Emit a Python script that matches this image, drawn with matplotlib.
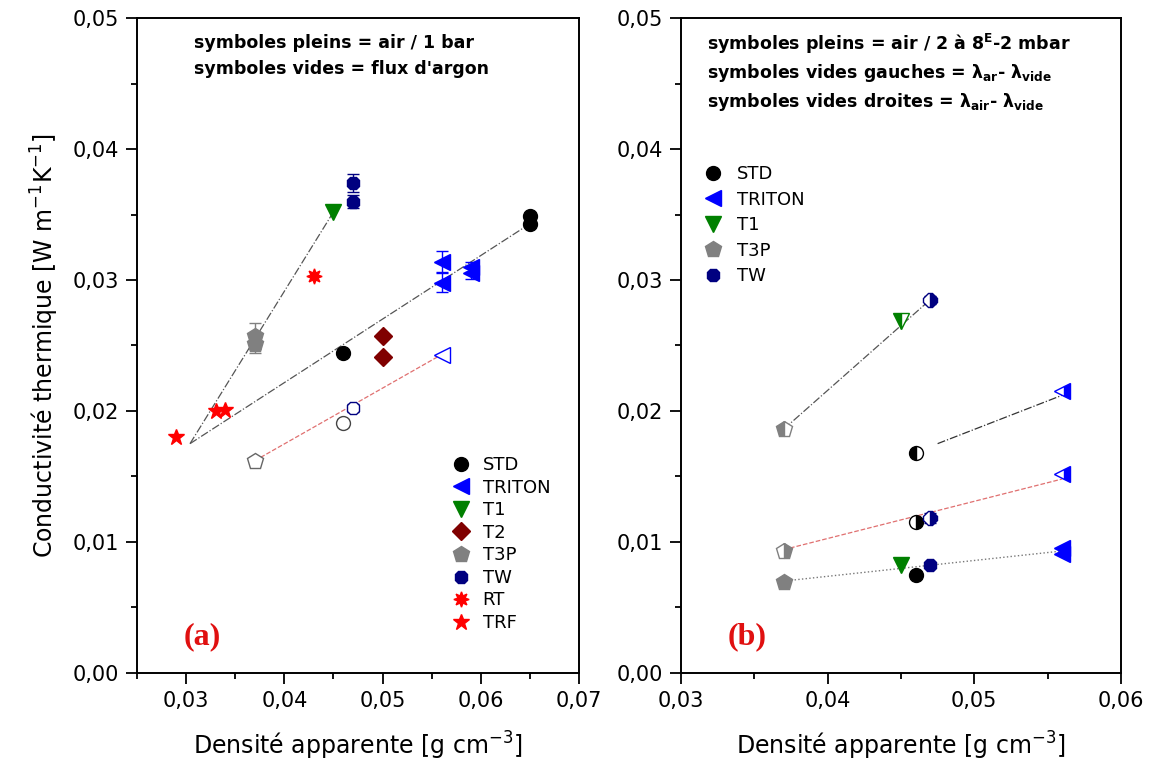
import matplotlib
matplotlib.use("Agg")
import matplotlib.pyplot as plt
from matplotlib.ticker import MultipleLocator, FuncFormatter

# ---- panel (a) data : air / 1 bar (filled) and argon flow (open) ----
std_x = [0.046, 0.065, 0.065]
std_y = [0.0244, 0.0349, 0.0343]
triton_x = [0.056, 0.056, 0.059, 0.059]
triton_y = [0.0314, 0.0298, 0.0310, 0.0305]
triton_err = [0.0008, 0.0007, 0.0004, 0.0004]
t1_x = [0.045]
t1_y = [0.0352]
t2_x = [0.050, 0.050]
t2_y = [0.0257, 0.0241]
t3p_x = [0.037, 0.037]
t3p_y = [0.0257, 0.0251]
t3p_err = [0.0010, 0.0007]
tw_x = [0.047, 0.047]
tw_y = [0.0374, 0.0360]
tw_err = [0.0007, 0.0005]
rt_x = [0.043]
rt_y = [0.0303]
trf_x = [0.029, 0.033, 0.034]
trf_y = [0.0180, 0.0200, 0.0201]

# open symbols (argon)
std_ar_x = [0.046]
std_ar_y = [0.0191]
std_ar_err = [0.0003]
triton_ar_x = [0.056]
triton_ar_y = [0.0243]
t3p_ar_x = [0.037]
t3p_ar_y = [0.0162]
t3p_ar_err = [0.0003]
tw_ar_x = [0.047]
tw_ar_y = [0.0202]
tw_ar_err = [0.0003]

# guide lines of panel (a)
fit1_x = [0.0304, 0.045]
fit1_y = [0.0175, 0.0352]
fit2_x = [0.0304, 0.065]
fit2_y = [0.0175, 0.0343]
fit3_x = [0.037, 0.056]
fit3_y = [0.0162, 0.0243]

# ---- panel (b) data : vacuum ----
b_std_x = [0.046]
b_std_y = [0.0075]
b_triton_x = [0.056, 0.056]
b_triton_y = [0.0095, 0.0091]
b_t1_x = [0.045]
b_t1_y = [0.0082]
b_t3p_x = [0.037]
b_t3p_y = [0.0069]
b_tw_x = [0.047]
b_tw_y = [0.0082]

# half filled: lambda_ar - lambda_vide
b_t3p_g_x = [0.037]
b_t3p_g_y = [0.0186]
b_t1_g_x = [0.045]
b_t1_g_y = [0.0269]
b_tw_g_x = [0.047]
b_tw_g_y = [0.0285]
b_std_g_x = [0.046]
b_std_g_y = [0.0168]
b_triton_g_x = [0.056]
b_triton_g_y = [0.0215]

# half filled: lambda_air - lambda_vide
b_t3p_d_x = [0.037]
b_t3p_d_y = [0.0093]
b_std_d_x = [0.046]
b_std_d_y = [0.0115]
b_tw_d_x = [0.047]
b_tw_d_y = [0.0118]
b_triton_d_x = [0.056]
b_triton_d_y = [0.0152]

b_fit1_x = [0.037, 0.047]
b_fit1_y = [0.0186, 0.0285]
b_fit2_x = [0.0475, 0.056]
b_fit2_y = [0.0175, 0.0212]
b_fit3_x = [0.037, 0.056]
b_fit3_y = [0.0094, 0.0148]
b_fit4_x = [0.037, 0.056]
b_fit4_y = [0.0070, 0.0093]

BLACK = "black"
BLUE = "#0000ff"
GREEN = "#008000"
DARKRED = "#800000"
GRAY = "#808080"
NAVY = "#000080"
RED = "#ff0000"


def comma(v, pos):
    return f"{v:.2f}".replace(".", ",")


def style_axes(ax, xmin, xmax):
    ax.set_xlim(xmin, xmax)
    ax.set_ylim(0, 0.05)
    ax.xaxis.set_major_locator(MultipleLocator(0.01))
    ax.xaxis.set_minor_locator(MultipleLocator(0.005))
    ax.yaxis.set_major_locator(MultipleLocator(0.01))
    ax.yaxis.set_minor_locator(MultipleLocator(0.005))
    ax.xaxis.set_major_formatter(FuncFormatter(comma))
    ax.yaxis.set_major_formatter(FuncFormatter(comma))
    ax.tick_params(which="major", direction="out", length=8, width=1.3,
                   labelsize=15, pad=5)
    ax.tick_params(which="minor", direction="out", length=4, width=1.3)
    ax.tick_params(top=False, right=False, which="both")
    for s in ax.spines.values():
        s.set_linewidth(1.4)
    ax.set_xlabel("Densité apparente [g cm$^{-3}$]", fontsize=17, labelpad=14)


def bars(ax, x, y, err, c):
    ax.errorbar(x, y, yerr=err, fmt="none", ecolor=c, capsize=4,
                elinewidth=1, capthick=1)


def half(ax, x, y, m, c, side, ms=10):
    ax.plot(x, y, m, color=c, mfc=c, mec=c, mfcalt="white",
            fillstyle=side, ms=ms)


fig = plt.figure(figsize=(11.53, 7.74), dpi=100)
ax1 = fig.add_axes([0.1188, 0.1309, 0.3834, 0.8455])
ax2 = fig.add_axes([0.5906, 0.1309, 0.3816, 0.8455])

# ---------- panel (a) ----------
ax1.plot(fit1_x, fit1_y, ls="-.", color="#555555", lw=0.9)
ax1.plot(fit2_x, fit2_y, ls="-.", color="#555555", lw=0.9)
ax1.plot(fit3_x, fit3_y, ls="--", color="#e07070", lw=0.9)

bars(ax1, triton_x, triton_y, triton_err, BLUE)
bars(ax1, t3p_x, t3p_y, t3p_err, GRAY)
bars(ax1, tw_x, tw_y, tw_err, NAVY)
bars(ax1, std_ar_x, std_ar_y, std_ar_err, "#444444")
bars(ax1, t3p_ar_x, t3p_ar_y, t3p_ar_err, "#666666")
bars(ax1, tw_ar_x, tw_ar_y, tw_ar_err, NAVY)

ax1.plot(std_x, std_y, "o", color=BLACK, ms=10, label="STD")
ax1.plot(triton_x, triton_y, "<", color=BLUE, ms=12, label="TRITON")
ax1.plot(t1_x, t1_y, "v", color=GREEN, ms=11, label="T1")
ax1.plot(t2_x, t2_y, "D", color=DARKRED, ms=9, label="T2")
ax1.plot(t3p_x, t3p_y, "p", color=GRAY, ms=12, label="T3P")
ax1.plot(tw_x, tw_y, "8", color=NAVY, ms=10, label="TW")
ax1.plot(rt_x, rt_y, marker=(8, 1, 0), ls="none", color=RED, ms=11, label="RT")
ax1.plot(trf_x, trf_y, "*", color=RED, ms=12, label="TRF")

ax1.plot(std_ar_x, std_ar_y, "o", mfc="white", mec="#444444", ms=10)
ax1.plot(triton_ar_x, triton_ar_y, "<", mfc="white", mec=BLUE, ms=12)
ax1.plot(t3p_ar_x, t3p_ar_y, "p", mfc="white", mec="#666666", ms=12)
ax1.plot(tw_ar_x, tw_ar_y, "8", mfc="white", mec=NAVY, ms=10)

style_axes(ax1, 0.025, 0.07)
ax1.set_ylabel("Conductivité thermique [W m$^{-1}$K$^{-1}$]", fontsize=17,
               labelpad=8)
ax1.legend(loc="upper left", bbox_to_anchor=(0.68, 0.35), frameon=False,
           fontsize=13, labelspacing=0.25, handletextpad=0.6,
           handlelength=1.2, borderpad=0.2)
ax1.text(0.13, 0.962, "symboles pleins = air / 1 bar", transform=ax1.transAxes,
         fontsize=12.5, fontweight="bold", va="center")
ax1.text(0.13, 0.922, "symboles vides = flux d'argon", transform=ax1.transAxes,
         fontsize=12.5, fontweight="bold", va="center")
ax1.text(0.105, 0.055, "(a)", transform=ax1.transAxes, color="#e01010",
         fontsize=23, fontweight="bold", family="Liberation Serif",
         va="center")

# ---------- panel (b) ----------
ax2.plot(b_fit1_x, b_fit1_y, ls="-.", color="#555555", lw=0.9)
ax2.plot(b_fit2_x, b_fit2_y, ls="-.", color="#333333", lw=0.9)
ax2.plot(b_fit3_x, b_fit3_y, ls="--", color="#e07070", lw=0.9)
ax2.plot(b_fit4_x, b_fit4_y, ls=":", color="#777777", lw=1.0)

bars(ax2, b_tw_g_x, b_tw_g_y, [0.0003], NAVY)
bars(ax2, b_tw_d_x, b_tw_d_y, [0.0004], NAVY)

ax2.plot(b_std_x, b_std_y, "o", color=BLACK, ms=10, label="STD")
ax2.plot(b_triton_x, b_triton_y, "<", color=BLUE, ms=12, label="TRITON")
ax2.plot(b_t1_x, b_t1_y, "v", color=GREEN, ms=11, label="T1")
ax2.plot(b_t3p_x, b_t3p_y, "p", color=GRAY, ms=12, label="T3P")
ax2.plot(b_tw_x, b_tw_y, "8", color=NAVY, ms=10, label="TW")

half(ax2, b_t3p_g_x, b_t3p_g_y, "p", GRAY, "left", ms=12)
half(ax2, b_t1_g_x, b_t1_g_y, "v", GREEN, "left", ms=11)
half(ax2, b_tw_g_x, b_tw_g_y, "8", NAVY, "right", ms=10)
half(ax2, b_std_g_x, b_std_g_y, "o", BLACK, "left", ms=10)
half(ax2, b_triton_g_x, b_triton_g_y, "<", BLUE, "right", ms=12)

half(ax2, b_t3p_d_x, b_t3p_d_y, "p", GRAY, "right", ms=12)
half(ax2, b_std_d_x, b_std_d_y, "o", BLACK, "right", ms=10)
half(ax2, b_tw_d_x, b_tw_d_y, "8", NAVY, "right", ms=10)
half(ax2, b_triton_d_x, b_triton_d_y, "<", BLUE, "right", ms=12)

style_axes(ax2, 0.03, 0.06)
ax2.legend(loc="upper left", bbox_to_anchor=(0.02, 0.795), frameon=False,
           fontsize=13, labelspacing=0.42, handletextpad=0.7,
           handlelength=1.2, borderpad=0.2)
ax2.text(0.06, 0.96, "symboles pleins = air / 2 à 8$^{\\mathbf{E}}$-2 mbar",
         transform=ax2.transAxes, fontsize=12.5, fontweight="bold", va="center")
ax2.text(0.06, 0.917,
         "symboles vides gauches = λ$_{\\mathbf{ar}}$- λ$_{\\mathbf{vide}}$",
         transform=ax2.transAxes, fontsize=12.5, fontweight="bold", va="center")
ax2.text(0.06, 0.872,
         "symboles vides droites = λ$_{\\mathbf{air}}$- λ$_{\\mathbf{vide}}$",
         transform=ax2.transAxes, fontsize=12.5, fontweight="bold", va="center")
ax2.text(0.105, 0.055, "(b)", transform=ax2.transAxes, color="#e01010",
         fontsize=23, fontweight="bold", family="Liberation Serif",
         va="center")

fig.savefig("out.png", dpi=100)
